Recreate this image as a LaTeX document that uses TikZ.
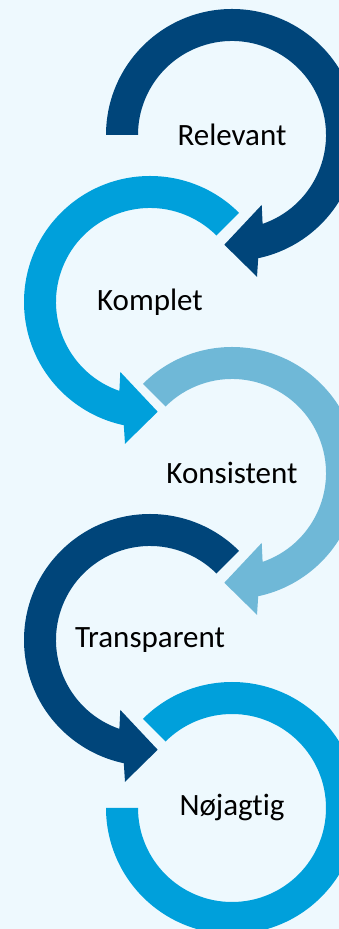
\documentclass[tikz,border=0pt]{standalone}
\usepackage{fontspec}
\setmainfont[Ligatures=NoCommon]{Carlito}
\usetikzlibrary{positioning}
\definecolor{bgblue}{RGB}{238,249,254}
\definecolor{navy}{RGB}{0,69,122}
\definecolor{bright}{RGB}{0,160,219}
\definecolor{pale}{RGB}{111,184,215}
\tikzset{
  label text/.style={font=\fontsize{31}{37}\selectfont, text=black}
}
\begin{document}
\begin{tikzpicture}[x=1pt, y=1pt]
      \useasboundingbox (0, 0) rectangle (339, 929);
      \fill [bgblue] (0, 0) rectangle (339, 929);
      \clip (0, 0) rectangle (339, 929);
      \coordinate (c1) at (232, 794);
      \coordinate (c2) at (150, 627);
      \coordinate (c3) at (232, 456);
      \coordinate (c4) at (150, 289);
      \coordinate (c5) at (232, 121);
      % clockwise loops
      \fill [navy, shift={(c1)}] (180:126) arc [start angle=180, end angle=-78, radius=126]
            -- (-80:144) -- (-94:110) -- (-67:76) -- (-71:94)
            arc [start angle=-71, end angle=180, radius=94] -- cycle;
      \fill [pale, shift={(c3)}] (135:126) arc [start angle=135, end angle=-78, radius=126]
            -- (-80:144) -- (-94:110) -- (-67:76) -- (-71:94)
            arc [start angle=-71, end angle=135, radius=94] -- cycle;
      % counter-clockwise loops
      \fill [bright, shift={(c2)}] (45:126) arc [start angle=45, end angle=258, radius=126]
            -- (260:144) -- (274:110) -- (247:76) -- (251:94)
            arc [start angle=251, end angle=45, radius=94] -- cycle;
      \fill [navy, shift={(c4)}] (45:126) arc [start angle=45, end angle=258, radius=126]
            -- (260:144) -- (274:110) -- (247:76) -- (251:94)
            arc [start angle=251, end angle=45, radius=94] -- cycle;
      % last loop, no head
      \fill [bright, shift={(c5)}] (135:126) arc [start angle=135, end angle=-180, radius=126]
            -- (-180:94) arc [start angle=-180, end angle=135, radius=94] -- cycle;
      \node (relevant) [label text] at (c1) {Relevant};
      \node (komplet) [label text] at (c2) {Komplet};
      \node (konsistent) [label text] at (c3) {Konsistent};
      \node (transparent) [label text] at (c4) {Transparent};
      \node (nojagtig) [label text] at (c5) {Nøjagtig};
\end{tikzpicture}
\end{document}
